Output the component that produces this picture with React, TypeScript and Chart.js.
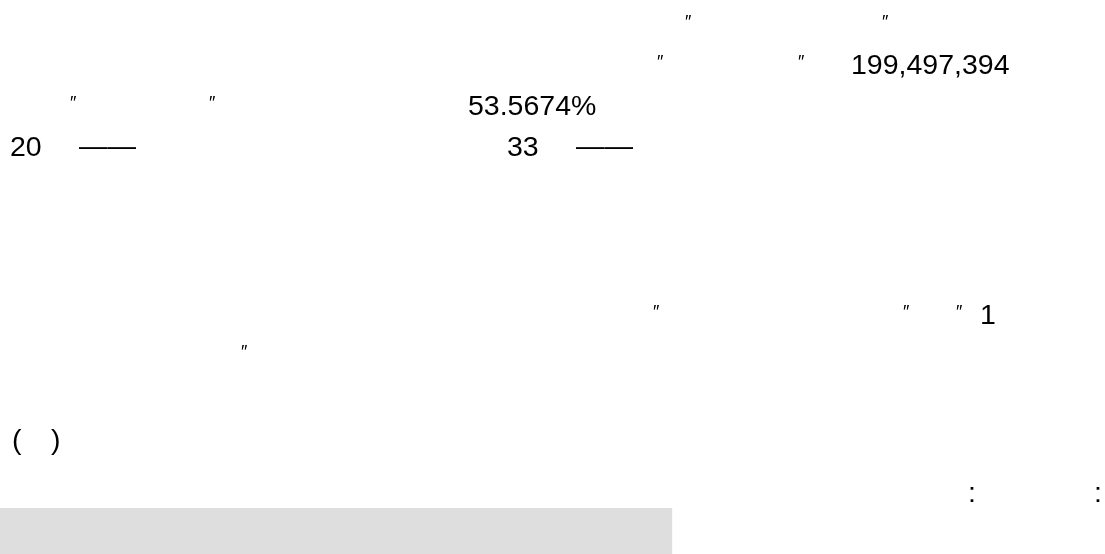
import React, { useEffect, useRef } from "react";
import { Chart, registerables } from "chart.js";

Chart.register(...registerables);

// ---- data ----
const totalValue = "199,497,394";
const shareValue = "53.5674%";
const countA = "20";
const countB = "33";
const rankValue = "1";
const bandCategories = [""];
const bandValues = [0.608];

// ---- layout of the text runs (positions, not data) ----
type Run = { t: string; x: number; y: number; q?: boolean };
const Q = "\u2033";
const runs: Run[] = [
  { t: Q, x: 685, y: 33, q: true },
  { t: Q, x: 882, y: 33, q: true },
  { t: Q, x: 657, y: 73, q: true },
  { t: Q, x: 798, y: 73, q: true },
  { t: totalValue, x: 851, y: 74 },
  { t: Q, x: 70, y: 114, q: true },
  { t: Q, x: 209, y: 114, q: true },
  { t: shareValue, x: 468, y: 115 },
  { t: countA, x: 10, y: 156 },
  { t: "\u2014\u2014", x: 79, y: 155 },
  { t: countB, x: 507, y: 156 },
  { t: "\u2014\u2014", x: 576, y: 155 },
  { t: Q, x: 653, y: 323, q: true },
  { t: Q, x: 903, y: 323, q: true },
  { t: Q, x: 956, y: 323, q: true },
  { t: rankValue, x: 980, y: 324 },
  { t: Q, x: 241, y: 363, q: true },
  { t: "(", x: 12, y: 449 },
  { t: ")", x: 51, y: 449 },
  { t: ":", x: 968, y: 502 },
  { t: ":", x: 1094, y: 502 },
];

const textPlugin = {
  id: "docText",
  afterDraw(chart: any) {
    const ctx = chart.ctx as CanvasRenderingContext2D;
    ctx.save();
    ctx.fillStyle = "#000";
    ctx.textBaseline = "alphabetic";
    ctx.textAlign = "left";
    for (const r of runs) {
      if (r.q) {
        ctx.font = "18px 'Liberation Sans', Arial, sans-serif";
        ctx.fillText(r.t, r.x, r.y - 5);
      } else {
        ctx.font = "28.5px 'Liberation Sans', Arial, sans-serif";
        ctx.fillText(r.t, r.x, r.y);
      }
    }
    ctx.restore();
  },
};

export default function App() {
  const ref = useRef<HTMLCanvasElement>(null);
  useEffect(() => {
    document.body.style.margin = "0";
    const chart = new Chart(ref.current!, {
      type: "bar",
      data: {
        labels: bandCategories,
        datasets: [
          {
            data: bandValues,
            backgroundColor: "#dedede",
            borderWidth: 0,
            barPercentage: 1,
            categoryPercentage: 1,
          },
        ],
      },
      options: {
        indexAxis: "y",
        animation: false,
        responsive: false,
        maintainAspectRatio: false,
        layout: { padding: { top: 508, left: 0, right: 0, bottom: 0 } },
        plugins: { legend: { display: false }, tooltip: { enabled: false }, title: { display: false } },
        scales: {
          x: { display: false, min: 0, max: 1, grid: { display: false } },
          y: { display: false, grid: { display: false } },
        },
      },
      plugins: [textPlugin],
    });
    return () => chart.destroy();
  }, []);
  return (
    <div style={{ width: 1105, height: 554, background: "#fff" }}>
      <canvas ref={ref} width={1105} height={554} style={{ display: "block" }} />
    </div>
  );
}
